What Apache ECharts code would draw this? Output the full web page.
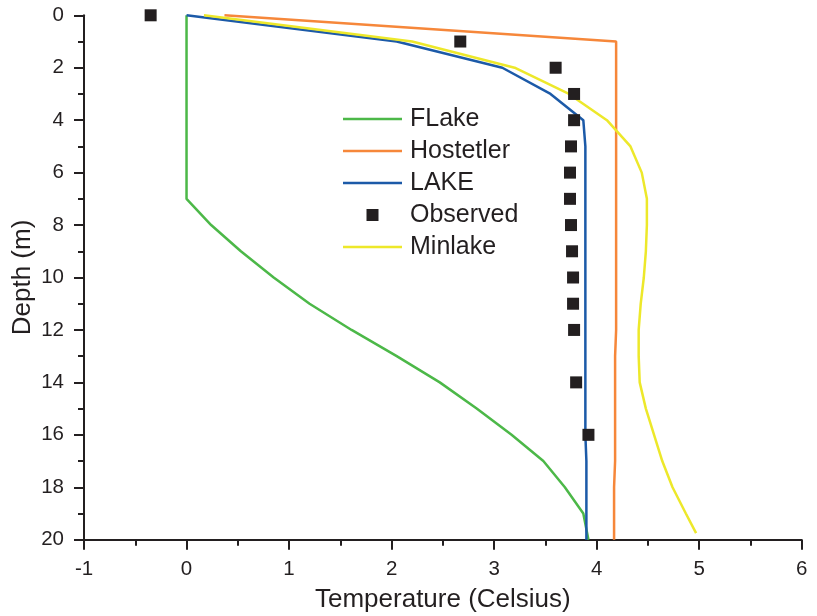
<!DOCTYPE html>
<html>
<head>
<meta charset="utf-8">
<style>
  html, body { margin: 0; padding: 0; background: #ffffff; }
  #chart { width: 817px; height: 616px; }
</style>
<script src="https://cdn.jsdelivr.net/npm/echarts@6/dist/echarts.min.js"></script>
</head>
<body>
<div id="chart"></div>
<script>
// Depth (m) shared by the model profiles
const depths = [0, 1, 2, 3, 4, 5, 6, 7, 8, 9, 10, 11, 12, 13, 14, 15, 16, 17, 18, 19, 20];

// Modelled temperature profiles (Celsius)
const flake     = [0, 0, 0, 0, 0, 0, 0, 0, 0.24, 0.53, 0.85, 1.20, 1.61, 2.05, 2.47, 2.83, 3.17, 3.48, 3.69, 3.87, 3.92];
const hostetler = [0.37, 4.19, 4.19, 4.19, 4.19, 4.19, 4.19, 4.19, 4.19, 4.19, 4.19, 4.19, 4.19, 4.18, 4.18, 4.18, 4.18, 4.18, 4.17, 4.17, 4.17];
const lake      = [0, 2.05, 3.08, 3.55, 3.87, 3.89, 3.89, 3.89, 3.89, 3.89, 3.89, 3.89, 3.89, 3.89, 3.89, 3.89, 3.89, 3.90, 3.90, 3.90, 3.90];

// Minlake profile stops just short of the bottom
const minlakeDepths = [0, 1, 2, 3, 4, 5, 6, 7, 8, 9, 10, 11, 12, 13, 14, 15, 16, 17, 18, 19, 19.75];
const minlake       = [0.17, 2.2, 3.2, 3.73, 4.10, 4.33, 4.44, 4.49, 4.49, 4.48, 4.46, 4.43, 4.41, 4.41, 4.42, 4.48, 4.56, 4.64, 4.74, 4.87, 4.97];

// Observed profile
const observedDepths = [0, 1, 2, 3, 4, 5, 6, 7, 8, 9, 10, 11, 12, 14, 16];
const observed       = [-0.35, 2.67, 3.60, 3.78, 3.78, 3.75, 3.74, 3.74, 3.75, 3.76, 3.77, 3.77, 3.78, 3.80, 3.92];

// Axis ticks
const xTicks = { min: -1, max: 6, interval: 1 };
const yTicks = { min: 0, max: 20, interval: 2 };

const ink = '#231f20';
const font = 'Liberation Sans, Arial, Helvetica, sans-serif';

// Legend glyphs: a plain stroke for the profiles, a square for observations
const lineIcon = 'path://M0,0H59V2.5H0Z';
const squareIcon = 'path://M0,0H1V1H0Z';

const pairs = (xs, ys) => xs.map((v, i) => [v, ys[i]]);

const lineSeries = (name, xs, ys, color) => ({
  name: name,
  type: 'line',
  data: pairs(xs, ys),
  symbol: 'none',
  smooth: false,
  lineStyle: { color: color, width: 2.5 },
  itemStyle: { color: color },
  z: 2
});

const chart = echarts.init(document.getElementById('chart'), null, { renderer: 'canvas' });

chart.setOption({
  animation: false,
  backgroundColor: '#ffffff',
  textStyle: { fontFamily: font },
  grid: {
    left: 84, right: 15.3, top: 15.3, bottom: 76.3,
    containLabel: false,
    outerBoundsMode: 'none'
  },
  legend: {
    orient: 'vertical',
    left: 343,
    top: 106,
    padding: 0,
    itemWidth: 59,
    itemHeight: 12,
    itemGap: 6,
    symbolKeepAspect: true,
    selectedMode: false,
    textStyle: { fontSize: 25, color: ink, fontFamily: font, lineHeight: 26, padding: [0, 0, 0, 3] },
    data: [
      { name: 'FLake', icon: lineIcon },
      { name: 'Hostetler', icon: lineIcon },
      { name: 'LAKE', icon: lineIcon },
      { name: 'Observed', icon: squareIcon },
      { name: 'Minlake', icon: lineIcon }
    ]
  },
  xAxis: {
    type: 'value',
    min: xTicks.min,
    max: xTicks.max,
    interval: xTicks.interval,
    name: 'Temperature (Celsius)',
    nameLocation: 'middle',
    nameGap: 47,
    nameTextStyle: { fontSize: 26, color: ink, fontFamily: font },
    axisLine: { show: true, onZero: false, lineStyle: { color: ink, width: 2 } },
    axisTick: { show: true, inside: false, length: 10, lineStyle: { color: ink, width: 2 } },
    minorTick: { show: true, splitNumber: 2, length: 6, lineStyle: { color: ink, width: 2 } },
    axisLabel: { fontSize: 20.5, color: ink, margin: 19, fontFamily: font },
    splitLine: { show: false },
    minorSplitLine: { show: false }
  },
  yAxis: {
    type: 'value',
    inverse: true,
    min: yTicks.min,
    max: yTicks.max,
    interval: yTicks.interval,
    name: 'Depth (m)',
    nameLocation: 'middle',
    nameGap: 48,
    nameMoveOverlap: false,
    nameTextStyle: { fontSize: 26, color: ink, fontFamily: font },
    axisLine: { show: true, onZero: false, lineStyle: { color: ink, width: 2 } },
    axisTick: { show: true, inside: false, length: 10, lineStyle: { color: ink, width: 2 } },
    minorTick: { show: true, splitNumber: 2, length: 6, lineStyle: { color: ink, width: 2 } },
    axisLabel: { fontSize: 20.5, color: ink, margin: 20, fontFamily: font },
    splitLine: { show: false },
    minorSplitLine: { show: false }
  },
  series: [
    lineSeries('FLake', flake, depths, '#4cb848'),
    lineSeries('Hostetler', hostetler, depths, '#f6873a'),
    lineSeries('LAKE', lake, depths, '#1c5aa8'),
    {
      name: 'Observed',
      type: 'scatter',
      data: pairs(observed, observedDepths),
      symbol: 'rect',
      symbolSize: 12,
      itemStyle: { color: ink, opacity: 1 },
      z: 3
    },
    lineSeries('Minlake', minlake, minlakeDepths, '#ede82a')
  ]
});
</script>
</body>
</html>
